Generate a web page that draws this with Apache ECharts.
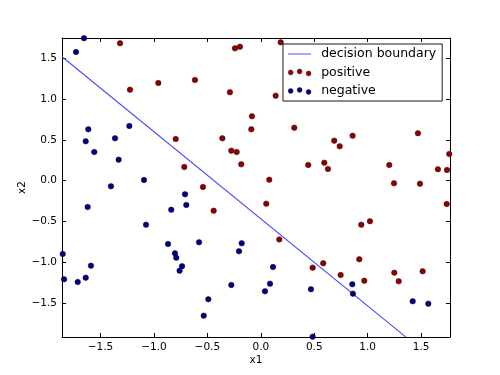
<!DOCTYPE html>
<html><head><meta charset="utf-8">
<script src="https://cdn.jsdelivr.net/npm/echarts@6/dist/echarts.min.js"></script>
<style>html,body{margin:0;padding:0;background:#fff}#c{width:500px;height:375px}</style>
</head><body><div id="c"></div>
<script>
// positive class points
const posX = [-1.317,-1.224,-0.959,-0.616,-0.796,-0.716,-0.242,-0.195,0.186,-0.289,0.139,-0.083,-0.089,0.313,-0.360,
  -0.276,-0.226,-0.183,0.444,0.594,0.628,0.079,-0.541,-0.441,0.051,0.173,
  0.859,1.470,0.687,0.738,1.763,1.202,1.657,1.742,1.246,1.489,1.739,0.940,1.021,
  0.584,0.921,0.747,0.968,1.249,1.290,1.514,0.485];
const posY = [1.685,1.116,1.198,1.235,0.511,0.167,1.623,1.643,1.697,1.084,1.042,0.789,0.630,0.649,0.519,
  0.367,0.351,0.200,0.192,0.220,0.143,0.011,-0.078,-0.369,-0.283,-0.722,
  0.551,0.581,0.490,0.421,0.327,0.192,0.139,0.130,-0.033,-0.038,-0.287,-0.541,-0.499,
  -1.014,-0.965,-1.158,-1.228,-1.130,-1.235,-1.113,-1.068];
// negative class points
const negX = [-1.654,-1.729,-1.614,-1.230,-1.638,-1.364,-1.558,-1.330,-1.093,-1.402,-0.709,-0.697,-1.620,-0.838,-1.074,
  0.856,0.862,1.421,1.567,
  -0.578,-0.179,-0.204,-0.737,-0.760,0.114,-0.276,0.086,0.039,0.469,-0.491,-0.534,0.485,
  -1.853,-1.841,-1.713,-1.638,-1.589,-0.868,-0.803,-0.791];
const negY = [1.748,1.578,0.630,0.670,0.482,0.519,0.351,0.257,0.008,-0.070,-0.168,-0.299,-0.324,-0.357,-0.541,
  -1.272,-1.387,-1.481,-1.510,
  -0.757,-0.769,-0.867,-1.051,-1.105,-1.060,-1.281,-1.265,-1.358,-1.333,-1.456,-1.657,-1.915,
  -0.900,-1.211,-1.244,-1.191,-1.044,-0.778,-0.892,-0.946];
// decision boundary endpoints
const boundaryX = [-1.86, 1.358];
const boundaryY = [1.52, -1.92];
// axis extents
const xRange = [-1.86, 1.77];
const yRange = [-1.919, 1.75];

const zip = (a, b) => a.map((v, i) => [v, b[i]]);
const FONT = 'DejaVu Sans';
const fmt = v => (v < 0 ? '\u2212' : '') + Math.abs(v).toFixed(1);
const dots = 'path://M0.2,3.4a2.4,2.4 0 1,0 4.8,0a2.4,2.4 0 1,0 -4.8,0Z M8.9,2.4a2.4,2.4 0 1,0 4.8,0a2.4,2.4 0 1,0 -4.8,0Z M17.6,4.4a2.4,2.4 0 1,0 4.8,0a2.4,2.4 0 1,0 -4.8,0Z';
const lineIcon = 'path://M0,0H24V1H0Z';

function xAx(pos, show) {
  return {
    type: 'value', position: pos, min: xRange[0], max: xRange[1], splitNumber: 7,
    axisLine: {show: true, onZero: false, lineStyle: {color: '#000', width: 1}},
    axisTick: {show: true, inside: true, length: 4, lineStyle: {color: '#000'}},
    axisLabel: {show: show, showMinLabel: false, showMaxLabel: false, formatter: fmt, color: '#000', fontFamily: FONT, fontSize: 10.5, margin: 5},
    splitLine: {show: false},
    name: show ? 'x1' : '', nameLocation: 'middle', nameGap: 18, nameMoveOverlap: false,
    nameTextStyle: {color: '#000', fontFamily: FONT, fontSize: 10.5}
  };
}
function yAx(pos, show) {
  return {
    type: 'value', position: pos, min: yRange[0], max: yRange[1], splitNumber: 7,
    axisLine: {show: true, onZero: false, lineStyle: {color: '#000', width: 1}},
    axisTick: {show: true, inside: true, length: 4, lineStyle: {color: '#000'}},
    axisLabel: {show: show, showMinLabel: false, showMaxLabel: false, formatter: fmt, color: '#000', fontFamily: FONT, fontSize: 10.5, margin: 5},
    splitLine: {show: false},
    name: show ? 'x2' : '', nameLocation: 'middle', nameGap: 34, nameRotate: 90, nameMoveOverlap: false,
    nameTextStyle: {color: '#000', fontFamily: FONT, fontSize: 10.5}
  };
}

const chart = echarts.init(document.getElementById('c'), null, {renderer: 'canvas'});
chart.setOption({
  animation: false,
  backgroundColor: '#fff',
  grid: {left: 62, right: 50, top: 38, bottom: 38, containLabel: false},
  xAxis: [xAx('bottom', true), xAx('top', false)],
  yAxis: [yAx('left', true), yAx('right', false)],
  legend: {
    orient: 'vertical', left: 283, top: 44,
    padding: [3, 6, 3, 5], itemGap: 4.5, itemWidth: 23, itemHeight: 7,
    borderColor: '#000', borderWidth: 0.9, backgroundColor: '#fff',
    textStyle: {color: '#000', fontFamily: FONT, fontSize: 12.5, lineHeight: 14, padding: [0, 0, 0, 5]},
    data: [
      {name: 'decision boundary', icon: lineIcon, itemStyle: {color: '#4848ff', borderWidth: 0}},
      {name: 'positive', icon: dots, itemStyle: {borderWidth: 0.4}},
      {name: 'negative', icon: dots, itemStyle: {borderWidth: 0.4}}
    ]
  },
  series: [
    {
      name: 'decision boundary', type: 'line', xAxisIndex: 0, yAxisIndex: 0,
      data: zip(boundaryX, boundaryY), symbol: 'none', showSymbol: false,
      lineStyle: {color: '#4848ff', width: 1.1}, itemStyle: {color: '#4848ff'}, z: 1
    },
    {
      name: 'positive', type: 'scatter', data: zip(posX, posY), symbol: 'circle', symbolSize: 5.5,
      itemStyle: {color: '#900000', borderColor: '#300000', borderWidth: 0.5, opacity: 1}, z: 3
    },
    {
      name: 'negative', type: 'scatter', data: zip(negX, negY), symbol: 'circle', symbolSize: 5.5,
      itemStyle: {color: '#000088', borderColor: '#000020', borderWidth: 0.5, opacity: 1}, z: 3
    }
  ]
});
</script>
</body></html>
